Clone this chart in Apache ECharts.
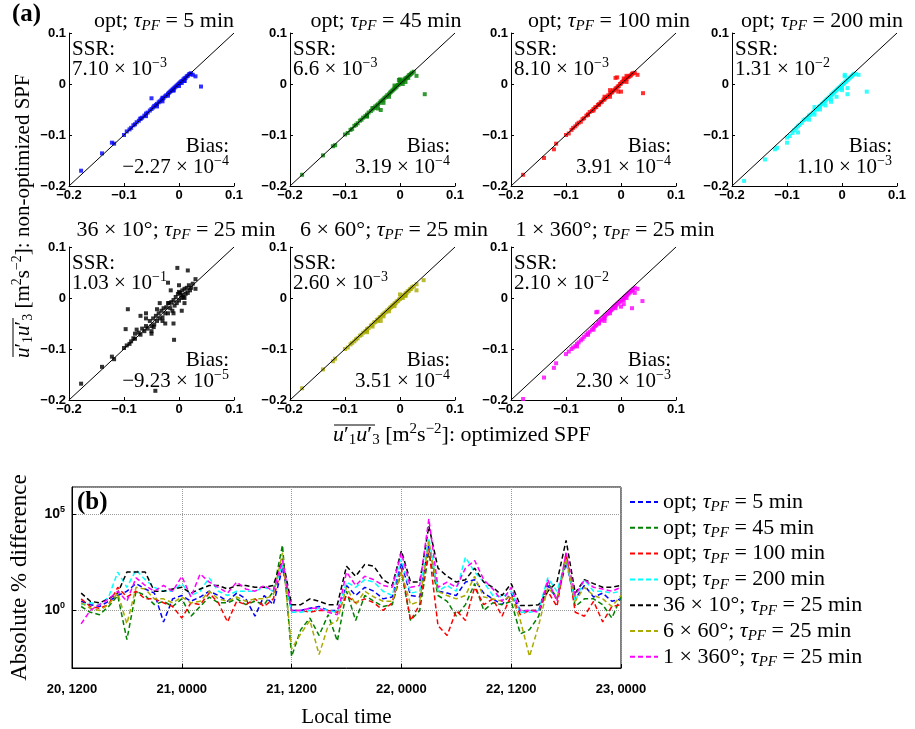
<!DOCTYPE html>
<html>
<head>
<meta charset="utf-8">
<script src="https://cdn.jsdelivr.net/npm/echarts@6/dist/echarts.min.js"></script>
<style>
  html, body { margin: 0; padding: 0; background: #fff; }
  #chart { width: 915px; height: 729px; }
</style>
</head>
<body>
<div id="chart"></div>
<script>
const SERIF = '"Liberation Serif", "DejaVu Serif", serif'
const SANS = '"Liberation Sans", Arial, sans-serif'
const EQ = ' = '

// ---------- panel (a): scatter data ----------
const panelColors = ['#0000ff', '#008000', '#ff0000', '#00ffff', '#000000', '#aaaa00', '#ff00ff']
const titlePre = ['opt; ', 'opt; ', 'opt; ', 'opt; ', '36 × 10°; ', '6 × 60°; ', '1 × 360°; ']
const titlePost = ['5 min', '45 min', '100 min', '200 min', '25 min', '25 min', '25 min']
const ssrMant = ['7.10', '6.6', '8.10', '1.31', '1.03', '2.60', '2.10']
const ssrExp = ['−3', '−3', '−3', '−2', '−1', '−3', '−2']
const biasMant = ['−2.27', '3.19', '3.91', '1.10', '−9.23', '3.51', '2.30']
const biasExp = ['−4', '−4', '−4', '−3', '−5', '−4', '−3']
const axTicks = [-0.2, -0.1, 0, 0.1]

// shared x positions of the dense band, one y list per panel
const bandX = [
  -0.178, -0.14, -0.122, -0.118, -0.1, -0.095, -0.09, -0.087, -0.083, -0.08,
  -0.077, -0.073, -0.07, -0.067, -0.063, -0.06, -0.057, -0.053, -0.05, -0.047,
  -0.045, -0.042, -0.04, -0.037, -0.035, -0.032, -0.03, -0.028, -0.025, -0.023,
  -0.02, -0.018, -0.016, -0.014, -0.012, -0.01, -0.008, -0.006, -0.004, -0.002,
  0, 0.002, 0.004, 0.006, 0.008, 0.01, 0.012, 0.014, 0.016, 0.018,
  0.02, 0.022, 0.025, 0.03, -0.05, -0.03, -0.02, -0.01, 0.0, 0.01,
  -0.06, -0.04, 0.005
]
const bandY = [
  [ -0.170, -0.136, -0.115, -0.117, -0.100, -0.093, -0.089, -0.086, -0.081, -0.079,
    -0.075, -0.072, -0.068, -0.066, -0.062, -0.058, -0.056, -0.052, -0.049, -0.046,
    -0.043, -0.041, -0.039, -0.036, -0.034, -0.031, -0.029, -0.027, -0.024, -0.022,
    -0.019, -0.017, -0.015, -0.013, -0.011, -0.009, -0.007, -0.005, -0.003, -0.001,
    0.001, 0.003, 0.005, 0.006, 0.009, 0.011, 0.012, 0.015, 0.016, 0.019,
    0.020, 0.021, 0.018, 0.015, -0.028, -0.034, -0.023, -0.013, -0.004, 0.006,
    -0.063, -0.044, 0.002 ],
  [ -0.178, -0.14, -0.122, -0.12, -0.099, -0.096, -0.09, -0.088, -0.082, -0.08,
    -0.077, -0.072, -0.07, -0.066, -0.063, -0.06, -0.056, -0.053, -0.05, -0.047,
    -0.044, -0.042, -0.04, -0.037, -0.034, -0.032, -0.03, -0.027, -0.025, -0.022,
    -0.02, -0.017, -0.015, -0.013, -0.011, -0.009, -0.007, -0.005, -0.002, -0.001,
    0.002, 0.003, 0.005, 0.007, 0.009, 0.011, 0.012, 0.014, 0.017, 0.018,
    0.02, 0.022, 0.024, 0.016, -0.047, -0.037, -0.025, -0.003, 0.009, 0.004,
    -0.064, -0.048, 0.0 ],
  [ -0.178, -0.145, -0.128, -0.117, -0.1, -0.097, -0.09, -0.086, -0.083, -0.079,
    -0.076, -0.074, -0.069, -0.067, -0.062, -0.06, -0.055, -0.053, -0.049, -0.046,
    -0.045, -0.041, -0.04, -0.036, -0.035, -0.031, -0.03, -0.027, -0.025, -0.022,
    -0.02, -0.017, -0.016, -0.013, -0.012, -0.009, -0.008, -0.005, -0.004, 0.0,
    0.001, 0.004, 0.005, 0.007, 0.009, 0.01, 0.013, 0.014, 0.016, 0.017,
    0.02, 0.021, 0.022, 0.018, -0.052, -0.025, -0.012, 0.012, -0.015, 0.016,
    -0.06, -0.04, 0.011 ],
  [ -0.19, -0.148, -0.128, -0.125, -0.105, -0.102, -0.096, -0.091, -0.087, -0.083,
    -0.08, -0.076, -0.071, -0.069, -0.066, -0.062, -0.06, -0.056, -0.052, -0.05,
    -0.049, -0.045, -0.043, -0.04, -0.038, -0.035, -0.033, -0.03, -0.028, -0.025,
    -0.022, -0.02, -0.018, -0.016, -0.014, -0.012, -0.01, -0.008, -0.006, -0.004,
    -0.002, 0.0, 0.002, 0.004, 0.006, 0.008, 0.01, 0.012, 0.014, 0.016,
    0.018, 0.02, 0.02, 0.018, -0.06, -0.042, -0.035, -0.025, -0.012, -0.008,
    -0.07, -0.05, 0.015 ],
  [ -0.168, -0.135, -0.115, -0.12, -0.098, -0.093, -0.09, -0.085, -0.079, -0.08,
    -0.062, -0.068, -0.072, -0.06, -0.065, -0.055, -0.06, -0.045, -0.055, -0.04,
    -0.052, -0.035, -0.045, -0.03, -0.04, -0.025, -0.038, -0.02, -0.03, -0.018,
    -0.03, -0.01, -0.02, -0.008, -0.025, -0.004, -0.015, 0.002, -0.01, 0.008,
    -0.005, 0.01, 0.0, 0.015, 0.002, 0.018, 0.008, 0.02, 0.01, 0.025,
    0.015, 0.02, 0.028, 0.018, -0.065, -0.045, -0.01, -0.03, 0.012, 0.0,
    -0.04, -0.022, 0.006 ],
  [ -0.177, -0.14, -0.124, -0.119, -0.1, -0.097, -0.091, -0.088, -0.085, -0.081,
    -0.079, -0.074, -0.072, -0.068, -0.065, -0.061, -0.059, -0.054, -0.052, -0.048,
    -0.047, -0.043, -0.042, -0.038, -0.037, -0.033, -0.032, -0.029, -0.027, -0.024,
    -0.022, -0.019, -0.018, -0.015, -0.014, -0.011, -0.01, -0.007, -0.006, -0.003,
    -0.002, 0.001, 0.002, 0.005, 0.006, 0.009, 0.01, 0.013, 0.014, 0.017,
    0.018, 0.021, 0.023, 0.027, -0.056, -0.036, -0.026, -0.016, 0.007, 0.004,
    -0.067, -0.045, 0.0 ],
  [ -0.198, -0.156, -0.137, -0.128, -0.11, -0.105, -0.1, -0.097, -0.094, -0.09,
    -0.087, -0.083, -0.08, -0.076, -0.072, -0.069, -0.066, -0.062, -0.058, -0.055,
    -0.053, -0.05, -0.047, -0.044, -0.042, -0.039, -0.037, -0.034, -0.031, -0.029,
    -0.026, -0.024, -0.022, -0.019, -0.017, -0.015, -0.013, -0.011, -0.009, -0.007,
    -0.005, -0.003, -0.001, 0.001, 0.003, 0.005, 0.007, 0.009, 0.011, 0.013,
    0.015, 0.017, 0.02, 0.018, -0.062, -0.04, -0.03, -0.02, -0.017, 0.0,
    -0.072, -0.05, -0.004 ]
]
const outliers = [
  [[0.04, -0.005], [-0.07, -0.068], [-0.03, -0.027], [-0.01, -0.012], [0.01, 0.006]],
  [[0.045, -0.02], [-0.035, -0.051], [-0.002, 0.008], [-0.06, -0.062], [0.015, 0.012]],
  [[0.04, -0.018], [-0.007, 0.013], [-0.005, -0.015], [-0.02, -0.025], [0.01, 0.004]],
  [[0.045, -0.015], [-0.1, -0.115], [-0.08, -0.095], [0.01, -0.02], [0.005, 0.018],
   [-0.05, -0.045], [-0.02, -0.03], [0.0, -0.008]],
  [[-0.043, -0.182], [-0.003, 0.059], [0.016, 0.054], [-0.009, -0.082], [-0.093, -0.022],
   [-0.046, -0.057], [-0.097, -0.061], [0.03, 0.037], [-0.07, -0.035], [-0.02, 0.03],
   [-0.06, -0.03], [-0.01, -0.05], [-0.035, -0.01], [-0.05, -0.07], [0.0, 0.025],
   [-0.025, -0.05], [0.01, -0.01], [-0.08, -0.07], [-0.015, 0.015], [0.005, -0.025]],
  [[0.043, 0.035], [0.03, 0.015], [-0.035, -0.045], [-0.06, -0.063], [0.01, 0.006]],
  [[0.039, -0.006], [-0.043, -0.027], [-0.045, -0.028], [0.025, 0.01], [0.02, -0.02],
   [-0.08, -0.095], [-0.03, -0.045], [0.005, -0.012]]
]

// ---------- panel (b): time series ----------
const hours = [
  1, 2, 3, 4, 5, 6, 7, 8, 9, 10, 11, 12, 13, 14, 15, 16, 17, 18, 19, 20,
  21, 22, 23, 24, 25, 26, 27, 28, 29, 30, 31, 32, 33, 34, 35, 36, 37, 38, 39, 40,
  41, 42, 43, 44, 45, 46, 47, 48, 49, 50, 51, 52, 53, 54, 55, 56, 57, 58, 59, 60
]
const timeLabels = ['20, 1200', '21, 0000', '21, 1200', '22, 0000', '22, 1200', '23, 0000']
const blueVals = [
  3, 2, 1.6, 3, 6, 10, 25, 13, 8, 0.25,
  4, 6, 3, 5, 10, 6, 3, 8, 4, 0.5,
  6, 2, 160, 1, 1, 1.3, 1.6, 1, 1, 20,
  6, 16, 10, 4, 5, 300, 6, 5, 3000, 10,
  8, 6, 30, 40, 8, 4, 2, 8, 0.9, 1,
  1, 20, 4, 300, 4, 20, 5, 8, 3, 4
]
const greenVals = [
  1.6, 0.8, 0.6, 1.6, 6, 0.03, 10, 6, 2, 3,
  1.6, 4, 0.5, 1.6, 5, 2.5, 2.5, 4, 2, 3,
  2, 10, 2500, 0.004, 0.1, 0.4, 0.05, 0.6, 0.025, 10,
  0.3, 6, 3, 1.6, 2, 100, 0.3, 1, 1000, 6,
  3, 0.5, 2, 25, 1, 2.5, 2, 3, 0.06, 0.1,
  0.5, 30, 4, 600, 1.6, 4, 4, 2, 0.4, 5
]
const redVals = [
  4, 1.6, 1.3, 2, 16, 5, 10, 4, 4, 2.5,
  1.6, 0.4, 2.5, 2, 8, 2.5, 0.25, 3, 2, 4,
  1.6, 4, 250, 1, 1, 0.8, 1, 1, 0.8, 6,
  2.5, 4, 2.5, 1, 2.5, 160, 0.3, 2, 1600, 0.16,
  0.05, 1, 0.3, 16, 2, 4, 0.5, 6, 0.6, 1,
  1, 10, 1.6, 1000, 0.8, 0.5, 3, 0.25, 1.6, 2
]
const cyanVals = [
  2, 2.5, 2, 5, 100, 16, 130, 40, 16, 10,
  10, 25, 6, 10, 50, 10, 6, 10, 10, 10,
  16, 10, 250, 0.8, 0.8, 1, 1.3, 1, 0.8, 30,
  16, 40, 30, 10, 6, 500, 8, 10, 6000, 10,
  20, 10, 600, 100, 30, 6, 5, 10, 0.8, 0.8,
  1, 50, 10, 400, 3, 40, 10, 10, 8, 10
]
const blackVals = [
  8, 3, 2.5, 4, 8, 100, 100, 100, 10, 10,
  13, 16, 8, 13, 20, 20, 13, 20, 20, 16,
  16, 20, 500, 2, 2, 4, 3, 2, 2, 200,
  60, 250, 200, 40, 20, 1300, 30, 30, 25000, 160,
  60, 30, 40, 160, 30, 16, 6, 25, 1.8, 1.8,
  2, 10, 30, 4500, 8, 40, 25, 16, 16, 20
]
const oliveVals = [
  2.5, 1.3, 1, 2, 8, 0.2, 16, 13, 4, 4,
  2.5, 5, 2.5, 3, 10, 4, 3, 5, 3, 4,
  4, 6, 1000, 0.01, 0.06, 0.3, 0.005, 0.16, 0.3, 16,
  2, 10, 5, 3, 3, 100, 2, 3, 4000, 10,
  6, 4, 6, 60, 5, 4, 3, 6, 0.3, 0.004,
  0.16, 16, 4, 500, 3, 16, 6, 4, 1.6, 6
]
const magentaVals = [
  0.2, 1, 2, 4, 10, 3, 50, 20, 10, 20,
  10, 60, 5, 80, 30, 16, 8, 30, 13, 10,
  20, 10, 400, 1, 1, 1.3, 1.3, 0.8, 0.6, 100,
  20, 60, 40, 20, 16, 1000, 16, 20, 60000, 16,
  30, 16, 160, 400, 40, 13, 3, 16, 1, 1,
  0.8, 40, 3, 1000, 6, 40, 16, 13, 10, 16
]
const lineNames = ['opt5', 'opt45', 'opt100', 'opt200', 'c36', 'c6', 'c1']
const lineVals = [blueVals, greenVals, redVals, cyanVals, blackVals, oliveVals, magentaVals]

// ---------- layout ----------
const panelLeft = [69, 290, 511, 732, 69, 290, 511]
const panelTop = [33, 33, 33, 33, 247, 247, 247]
const PW = 165, PH = 153
const titleX = [164, 386, 609, 822, 176, 394, 615]
const titleY = [21, 21, 21, 21, 230, 230, 230]

function richSet(size, lh) {
  const small = Math.round(size * 0.68)
  return {
    n: { fontFamily: SERIF, fontSize: size, lineHeight: lh, color: '#000' },
    i: { fontFamily: SERIF, fontSize: size, fontStyle: 'italic', lineHeight: lh, color: '#000' },
    sub: { fontFamily: SERIF, fontSize: small, fontStyle: 'italic', verticalAlign: 'bottom', lineHeight: small - 1, color: '#000' },
    subn: { fontFamily: SERIF, fontSize: small, verticalAlign: 'bottom', lineHeight: small - 1, color: '#000' },
    sup: { fontFamily: SERIF, fontSize: small, verticalAlign: 'top', lineHeight: small - 1, color: '#000' }
  }
}
const richMain = richSet(21, 25)
const richTitle = richSet(22, 26)
const richLabel = richSet(22, 26)

const tau = '{i|τ}{sub|PF}'
function fmtTick(v) {
  const r = Math.round(v * 10) / 10
  if (r === 0) return '0'
  return r < 0 ? '\u2212' + Math.abs(r) : String(r)
}

const grid = [], xAxis = [], yAxis = [], series = [], graphic = []
const tickLabel = { color: '#000', fontFamily: SANS, fontWeight: 'bold', fontSize: 13, formatter: fmtTick }

for (let k = 0; k < 7; k++) {
  const L = panelLeft[k], T = panelTop[k]
  grid.push({ left: L, top: T, width: PW, height: PH })
  const axisCommon = {
    type: 'value', gridIndex: k, min: axTicks[0], max: axTicks[3], interval: 0.1,
    axisLine: { onZero: false, lineStyle: { color: '#000', width: 1 } },
    axisTick: { inside: true, length: 3, lineStyle: { color: '#000' } },
    splitLine: { show: false }
  }
  xAxis.push(Object.assign({}, axisCommon, { axisLabel: Object.assign({ margin: 3 }, tickLabel) }))
  yAxis.push(Object.assign({}, axisCommon, { axisLabel: Object.assign({ margin: 3 }, tickLabel) }))
  const pts = bandX.map((x, i) => [x, bandY[k][i]]).concat(outliers[k])
  series.push({
    type: 'scatter', xAxisIndex: k, yAxisIndex: k, symbol: 'rect', symbolSize: 4,
    itemStyle: { color: panelColors[k] }, data: pts, silent: true
  })
  series.push({
    type: 'line', xAxisIndex: k, yAxisIndex: k, symbol: 'none', silent: true,
    lineStyle: { color: '#000', width: 1 },
    data: [[axTicks[0], axTicks[0]], [axTicks[3], axTicks[3]]]
  })

  graphic.push({ type: 'text', x: titleX[k], y: titleY[k],
    style: { text: '{n|' + titlePre[k] + '}' + tau + '{n|' + EQ + titlePost[k] + '}', rich: richTitle, align: 'center', verticalAlign: 'middle' } })
  graphic.push({ type: 'text', x: L + 3, y: T + 16,
    style: { text: '{n|SSR:}', rich: richMain, align: 'left', verticalAlign: 'middle' } })
  graphic.push({ type: 'text', x: L + 3, y: T + 36,
    style: { text: '{n|' + ssrMant[k] + ' × 10}{sup|' + ssrExp[k] + '}', rich: richMain, align: 'left', verticalAlign: 'middle' } })
  graphic.push({ type: 'text', x: L + PW - 5, y: T + 113,
    style: { text: '{n|Bias:}', rich: richMain, align: 'right', verticalAlign: 'middle' } })
  graphic.push({ type: 'text', x: L + PW - 5, y: T + 134,
    style: { text: '{n|' + biasMant[k] + ' × 10}{sup|' + biasExp[k] + '}', rich: richMain, align: 'right', verticalAlign: 'middle' } })
}

// panel (b)
grid.push({ left: 69, top: 487, width: 552, height: 190, show: true, borderColor: '#000', borderWidth: 1, backgroundColor: 'transparent' })
xAxis.push({
  type: 'value', gridIndex: 7, min: 0, max: 60, interval: 12,
  axisLine: { onZero: false, lineStyle: { color: '#000' } },
  axisTick: { inside: true, length: 4, lineStyle: { color: '#000' } },
  splitLine: { show: true, lineStyle: { type: 'dotted', color: '#999' } },
  axisLabel: { color: '#000', fontFamily: SANS, fontWeight: 'bold', fontSize: 13, margin: 15,
    formatter: v => timeLabels[Math.round(v / 12)] },
  name: 'Local time', nameLocation: 'middle', nameGap: 39,
  nameTextStyle: { fontFamily: SERIF, fontSize: 21, color: '#000' }
})
yAxis.push({
  type: 'log', logBase: 100000, gridIndex: 7, min: 0.001, max: 2.7e6,
  axisLine: { onZero: false, lineStyle: { color: '#000' } },
  axisTick: { inside: true, length: 4, lineStyle: { color: '#000' } },
  splitLine: { show: true, lineStyle: { type: 'dotted', color: '#999' } },
  axisLabel: {
    showMinLabel: false, showMaxLabel: false, margin: 7,
    formatter: v => (v > 10 ? '{b|10}{s|5}' : '{b|10}{s|0}'),
    rich: {
      b: { fontFamily: SANS, fontWeight: 'bold', fontSize: 14, color: '#000', lineHeight: 18 },
      s: { fontFamily: SANS, fontWeight: 'bold', fontSize: 9, color: '#000', verticalAlign: 'top', lineHeight: 9 }
    }
  },
  name: 'Absolute % difference', nameLocation: 'middle', nameGap: 41, nameRotate: 90,
  nameTextStyle: { fontFamily: SERIF, fontSize: 23, color: '#000' }
})
for (let s = 0; s < 7; s++) {
  series.push({
    type: 'line', name: lineNames[s], xAxisIndex: 7, yAxisIndex: 7, symbol: 'none', silent: true,
    lineStyle: { color: panelColors[s], width: 1.5, type: [5, 3] },
    itemStyle: { color: panelColors[s] },
    data: hours.map((h, i) => [h, lineVals[s][i]])
  })
}

// labels
graphic.push({ type: 'text', x: 12, y: 15,
  style: { text: '(a)', font: 'bold 25px ' + SERIF, fill: '#000', align: 'left', verticalAlign: 'middle' } })
graphic.push({ type: 'text', x: 77, y: 503,
  style: { text: '(b)', font: 'bold 25px ' + SERIF, fill: '#000', align: 'left', verticalAlign: 'middle' } })
const uuText = '{i|u}{n|′}{subn|1}{i|u}{n|′}{subn|3}{n| [m}{sup|2}{n|s}{sup|−2}{n|]: }'
graphic.push({ type: 'text', x: 333, y: 435,
  style: { text: uuText + '{n|optimized SPF}', rich: richLabel, align: 'left', verticalAlign: 'middle' } })
graphic.push({ type: 'line', shape: { x1: 334, y1: 425, x2: 375, y2: 425 }, style: { stroke: '#000', lineWidth: 1 } })
graphic.push({ type: 'group', x: 23, y: 358, rotation: Math.PI / 2, children: [
  { type: 'text', x: 0, y: 0,
    style: { text: uuText + '{n|non-optimized SPF}', rich: richMain, align: 'left', verticalAlign: 'middle' } },
  { type: 'line', shape: { x1: 1, y1: -10, x2: 40, y2: -10 }, style: { stroke: '#000', lineWidth: 1 } }
] })

const chart = echarts.init(document.getElementById('chart'))
chart.setOption({
  animation: false,
  backgroundColor: '#fff',
  grid, xAxis, yAxis, series, graphic,
  legend: {
    orient: 'vertical', left: 624, top: 486, itemWidth: 28, itemHeight: 12, itemGap: 1.8,
    selectedMode: false, data: lineNames,
    itemStyle: { opacity: 0 },
    formatter: name => {
      const i = lineNames.indexOf(name)
      return '{n|' + titlePre[i] + '}' + tau + '{n|' + EQ + titlePost[i] + '}'
    },
    textStyle: { rich: richTitle }
  }
})
</script>
</body>
</html>
